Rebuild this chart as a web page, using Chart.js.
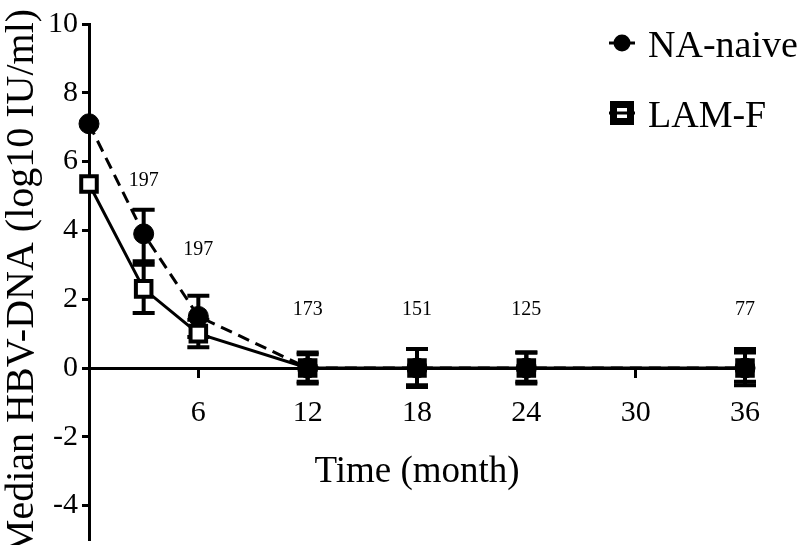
<!DOCTYPE html>
<html>
<head>
<meta charset="utf-8">
<script src="https://cdn.jsdelivr.net/npm/chart.js@4/dist/chart.umd.min.js"></script>
<style>
  html, body { margin: 0; padding: 0; background: #fff; }
  #wrap { width: 800px; height: 545px; position: relative; }
</style>
</head>
<body>
<div id="wrap"><canvas id="grafica"></canvas></div>
<script>
// --- datos ---
const meses = [0, 3, 6, 12, 18, 24, 36];

const naiveMediana = [7.1, 3.9, 1.5, 0, 0, 0, 0];
const naiveBajo    = [7.1, 3.1, 0.9, -0.4, -0.5, -0.4, -0.4];
const naiveAlto    = [7.1, 4.6, 2.1, 0.4, 0.55, 0.45, 0.45];

const lamMediana = [5.35, 2.3, 1.0, 0, 0, 0, 0];
const lamBajo    = [5.35, 1.6, 0.6, -0.45, -0.55, -0.45, -0.5];
const lamAlto    = [5.35, 3.0, 1.4, 0.45, 0.55, 0.45, 0.55];

// numero de pacientes en cada visita
const conteoTexto = ['197', '197', '173', '151', '125', '77'];
const conteoX     = [3, 6, 12, 18, 24, 36];
const conteoY     = [5.45, 3.45, 1.7, 1.7, 1.7, 1.7];

const ticksX = [6, 12, 18, 24, 30, 36];
const ticksY = [-4, -2, 0, 2, 4, 6, 8, 10];

const serif = "'Liberation Serif', 'Times New Roman', serif";

const puntos = (xs, ys) => xs.map((x, i) => ({ x: x, y: ys[i] }));

// barras de error, dibujadas detras de los marcadores
const barrasError = {
    id: 'barrasError',
    beforeDatasetsDraw(chart) {
        const { ctx, scales: { x, y } } = chart;
        const series = [[lamBajo, lamAlto], [naiveBajo, naiveAlto]];
        ctx.save();
        ctx.strokeStyle = '#000';
        ctx.lineWidth = 4;
        series.forEach(([bajo, alto]) => {
            meses.forEach((m, i) => {
                if (alto[i] === bajo[i]) return;
                const px = x.getPixelForValue(m);
                const y1 = y.getPixelForValue(alto[i]);
                const y2 = y.getPixelForValue(bajo[i]);
                ctx.beginPath();
                ctx.moveTo(px, y1); ctx.lineTo(px, y2);
                ctx.moveTo(px - 11, y1); ctx.lineTo(px + 11, y1);
                ctx.moveTo(px - 11, y2); ctx.lineTo(px + 11, y2);
                ctx.stroke();
            });
        });
        ctx.restore();
    }
};

// numeros sobre los puntos y leyenda en la esquina
const anotaciones = {
    id: 'anotaciones',
    afterDraw(chart) {
        const { ctx, scales: { x, y } } = chart;
        ctx.save();
        ctx.fillStyle = '#000';
        ctx.font = `20px ${serif}`;
        ctx.textAlign = 'center';
        ctx.textBaseline = 'middle';
        conteoTexto.forEach((t, i) => {
            ctx.fillText(t, x.getPixelForValue(conteoX[i]), y.getPixelForValue(conteoY[i]));
        });

        // leyenda
        ctx.font = `38px ${serif}`;
        ctx.textAlign = 'left';
        ctx.textBaseline = 'alphabetic';
        chart.data.datasets.forEach((ds, i) => {
            const cy = 43 + i * 70;
            const cx = 622;
            ctx.strokeStyle = '#000';
            ctx.lineWidth = 3;
            ctx.setLineDash([]);
            ctx.beginPath();
            ctx.moveTo(cx - 13, cy); ctx.lineTo(cx + 13, cy);
            ctx.stroke();
            ctx.beginPath();
            if (ds.pointStyle === 'circle') {
                ctx.arc(cx, cy, 8.5, 0, Math.PI * 2);
                ctx.fillStyle = '#000';
                ctx.fill();
            } else {
                ctx.fillStyle = '#fff';
                ctx.lineWidth = 7;
                ctx.rect(cx - 8.5, cy - 8.5, 17, 17);
                ctx.fill();
                ctx.stroke();
                ctx.beginPath();
                ctx.lineWidth = 3;
                ctx.moveTo(cx - 9, cy); ctx.lineTo(cx + 9, cy);
                ctx.stroke();
            }
            ctx.fillStyle = '#000';
            ctx.fillText(ds.label, 648, cy + 14);
        });
        ctx.restore();
    }
};

new Chart(document.getElementById('grafica'), {
    type: 'line',
    data: {
        datasets: [
            {
                label: 'NA-naive',
                data: puntos(meses, naiveMediana),
                borderColor: '#000',
                borderWidth: 3,
                borderDash: [12, 7],
                pointStyle: 'circle',
                pointRadius: 10,
                pointBackgroundColor: '#000',
                pointBorderColor: '#000',
                pointBorderWidth: 1,
                clip: false
            },
            {
                label: 'LAM-F',
                data: puntos(meses, lamMediana),
                borderColor: '#000',
                borderWidth: 3,
                pointStyle: 'rect',
                pointRadius: 11,
                pointBackgroundColor: '#fff',
                pointBorderColor: '#000',
                pointBorderWidth: 4,
                clip: false
            }
        ]
    },
    options: {
        responsive: true,
        maintainAspectRatio: false,
        animation: false,
        layout: { autoPadding: false, padding: { top: 24, right: 55, bottom: 5, left: 0 } },
        plugins: {
            legend: { display: false },
            tooltip: { enabled: false }
        },
        scales: {
            x: {
                type: 'linear',
                position: { y: 0 },
                min: 0,
                max: 36,
                afterBuildTicks: s => { s.ticks = ticksX.map(v => ({ value: v })); },
                afterFit: s => { s.paddingLeft = 0; s.paddingRight = 0; },
                ticks: {
                    color: '#000',
                    font: { family: serif, size: 30 },
                    padding: 19,
                    maxRotation: 0
                },
                grid: {
                    drawOnChartArea: false,
                    drawTicks: true,
                    tickLength: 8,
                    tickWidth: 3,
                    tickColor: '#000'
                },
                border: { color: '#000', width: 3 },
                title: {
                    display: true,
                    text: 'Time (month)',
                    color: '#000',
                    font: { family: serif, size: 37 },
                    padding: { top: 0, bottom: 0 }
                }
            },
            y: {
                type: 'linear',
                min: -5,
                max: 10,
                afterBuildTicks: s => { s.ticks = ticksY.map(v => ({ value: v })); },
                afterFit: s => { s.width = 89; s.paddingTop = 0; s.paddingBottom = 0; },
                ticks: {
                    color: '#000',
                    font: { family: serif, size: 30 },
                    padding: 4
                },
                grid: {
                    drawOnChartArea: false,
                    drawTicks: true,
                    tickLength: 7,
                    tickWidth: 3,
                    tickColor: '#000'
                },
                border: { color: '#000', width: 3 },
                title: {
                    display: true,
                    text: 'Median HBV-DNA (log10 IU/ml)',
                    color: '#000',
                    font: { family: serif, size: 40, lineHeight: 1 },
                    padding: { top: 2, bottom: 0 }
                }
            }
        }
    },
    plugins: [barrasError, anotaciones]
});
</script>
</body>
</html>
